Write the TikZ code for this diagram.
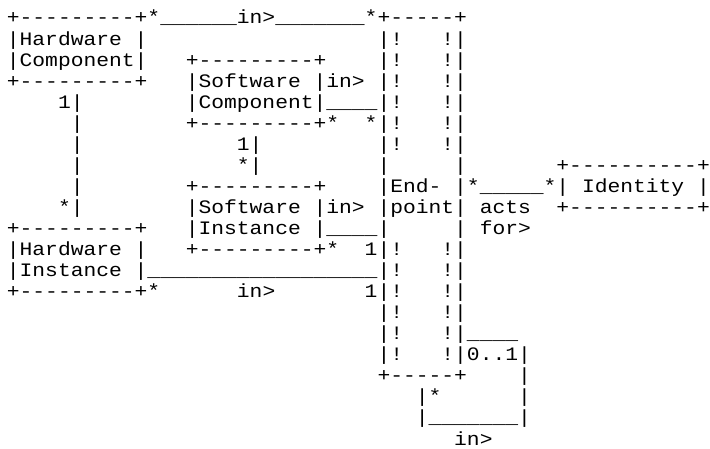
\documentclass[tikz,border=0pt]{standalone}
\usepackage{fontspec}
\setmonofont{Liberation Mono}[FakeStretch=1.121]
\tikzset{
  asctxt/.style={font=\ttfamily\fontsize{19}{19}\selectfont, inner sep=0pt, outer sep=0pt, anchor=base west, text=black}
}
\newcommand\asc[3]{\node[asctxt] (c#1r#2) at ({6.9pt+12.78pt*#1},{-24pt-21.05pt*#2}) {#3};}
\begin{document}
\begin{tikzpicture}
\fill[white] (0,0) rectangle (710pt,-449pt);
\useasboundingbox (0,0) rectangle (710pt,-449pt);
% row 0
\asc{0}{0}{+---------+*\_\_\_\_\_\_in>\_\_\_\_\_\_\_*+-----+}
% row 1
\asc{0}{1}{|Hardware}\asc{10}{1}{|}\asc{29}{1}{|!}\asc{34}{1}{!|}
% row 2
\asc{0}{2}{|Component|}\asc{14}{2}{+---------+}\asc{29}{2}{|!}\asc{34}{2}{!|}
% row 3
\asc{0}{3}{+---------+}\asc{14}{3}{|Software}\asc{24}{3}{|in>}\asc{29}{3}{|!}\asc{34}{3}{!|}
% row 4
\asc{4}{4}{1|}\asc{14}{4}{|Component|\_\_\_\_|!}\asc{34}{4}{!|}
% row 5
\asc{5}{5}{|}\asc{14}{5}{+---------+*}\asc{28}{5}{*|!}\asc{34}{5}{!|}
% row 6
\asc{5}{6}{|}\asc{18}{6}{1|}\asc{29}{6}{|!}\asc{34}{6}{!|}
% row 7
\asc{5}{7}{|}\asc{18}{7}{*|}\asc{29}{7}{|}\asc{35}{7}{|}\asc{43}{7}{+----------+}
% row 8
\asc{5}{8}{|}\asc{14}{8}{+---------+}\asc{29}{8}{|End-}\asc{35}{8}{|*\_\_\_\_\_*|}\asc{45}{8}{Identity}\asc{54}{8}{|}
% row 9
\asc{4}{9}{*|}\asc{14}{9}{|Software}\asc{24}{9}{|in>}\asc{29}{9}{|point|}\asc{37}{9}{acts}\asc{43}{9}{+----------+}
% row 10
\asc{0}{10}{+---------+}\asc{14}{10}{|Instance}\asc{24}{10}{|\_\_\_\_|}\asc{35}{10}{|}\asc{37}{10}{for>}
% row 11
\asc{0}{11}{|Hardware}\asc{10}{11}{|}\asc{14}{11}{+---------+*}\asc{28}{11}{1|!}\asc{34}{11}{!|}
% row 12
\asc{0}{12}{|Instance}\asc{10}{12}{|\_\_\_\_\_\_\_\_\_\_\_\_\_\_\_\_\_\_|!}\asc{34}{12}{!|}
% row 13
\asc{0}{13}{+---------+*}\asc{18}{13}{in>}\asc{28}{13}{1|!}\asc{34}{13}{!|}
% row 14
\asc{29}{14}{|!}\asc{34}{14}{!|}
% row 15
\asc{29}{15}{|!}\asc{34}{15}{!|\_\_\_\_}
% row 16
\asc{29}{16}{|!}\asc{34}{16}{!|0..1|}
% row 17
\asc{29}{17}{+-----+}\asc{40}{17}{|}
% row 18
\asc{32}{18}{|*}\asc{40}{18}{|}
% row 19
\asc{32}{19}{|\_\_\_\_\_\_\_|}
% row 20
\asc{35}{20}{in>}
\end{tikzpicture}
\end{document}
